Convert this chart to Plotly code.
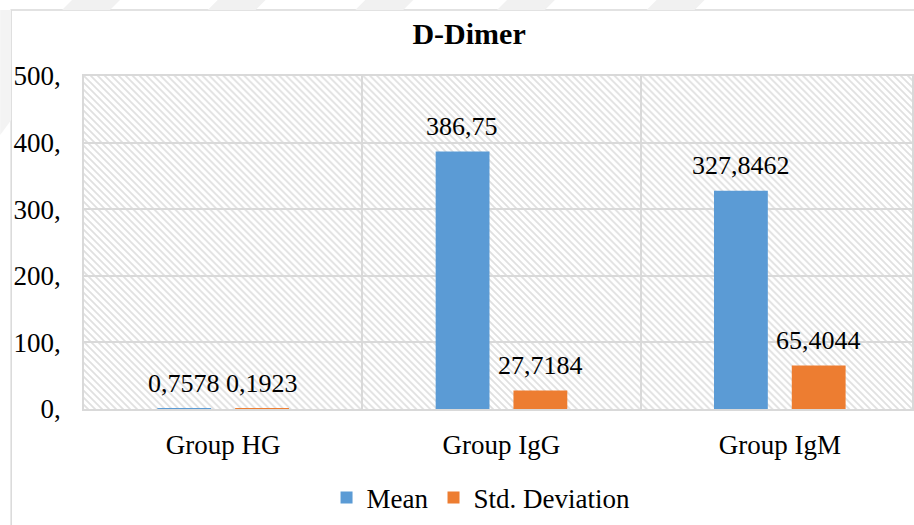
import base64
import plotly.graph_objects as go

groups = ["Group HG", "Group IgG", "Group IgM"]
mean_vals = [0.7578, 386.75, 327.8462]
std_vals = [0.1923, 27.7184, 65.4044]
y_ticks = [0, 100, 200, 300, 400, 500]
y_tick_text = [f"{v}," for v in y_ticks]

W, H = 914, 525
L, R, T, B = 84, 0, 76, 116
PW, PH = W - L - R, H - T - B
FONT = "Liberation Serif, Times New Roman, serif"
GRID = "#d9d9d9"


def px_x(x):
    return (x - L) / PW


def px_y(y):
    return (H - B - y) / PH


def label(v):
    return f"{v}".replace(".", ",")


# diagonal hatch for the plot area background (Excel pattern fill look)
hatch_svg = f"""<svg xmlns='http://www.w3.org/2000/svg' width='{PW}' height='{PH}'>
<defs><pattern id='p' width='7' height='7' patternUnits='userSpaceOnUse'>
<path d='M-1,-1 L8,8 M-1,6 L1,8 M6,-1 L8,1' stroke='#e0e0e0' stroke-width='1.8'/>
</pattern></defs><rect width='100%' height='100%' fill='white'/>
<rect width='100%' height='100%' fill='url(#p)'/></svg>"""
hatch_uri = "data:image/svg+xml;base64," + base64.b64encode(hatch_svg.encode()).decode()

fig = go.Figure()
fig.add_trace(go.Bar(x=groups, y=mean_vals, name="Mean", marker=dict(color="#5B9BD5", line=dict(width=0))))
fig.add_trace(go.Bar(x=groups, y=std_vals, name="Std. Deviation", marker=dict(color="#ED7D31", line=dict(width=0))))

annotations = []
for vals, shift in [(mean_vals, -39), (std_vals, 39)]:
    for g, v in zip(groups, vals):
        annotations.append(dict(x=g, y=v, xref="x", yref="y", text=label(v), showarrow=False,
                                xshift=shift, yshift=25, yanchor="middle",
                                font=dict(family=FONT, size=26, color="black")))

shapes = [dict(type="rect", xref="paper", yref="paper", x0=px_x(11), y0=px_y(540), x1=px_x(930), y1=px_y(10),
               line=dict(color=GRID, width=1.5), fillcolor="rgba(0,0,0,0)", layer="below")]
# faint watermark bands at the top edge
for x0 in [62, 208, 356, 498, 648]:
    p = (f"M{px_x(x0)},{px_y(10)} L{px_x(x0 + 48)},{px_y(10)} "
         f"L{px_x(x0 + 58)},{px_y(0)} L{px_x(x0 + 10)},{px_y(0)} Z")
    shapes.append(dict(type="path", xref="paper", yref="paper", path=p, fillcolor="#f1f1f1",
                       line=dict(width=0), layer="below"))
p = f"M{px_x(0)},{px_y(10)} L{px_x(11)},{px_y(10)} L{px_x(11)},{px_y(120)} L{px_x(0)},{px_y(135)} Z"
shapes.append(dict(type="path", xref="paper", yref="paper", path=p, fillcolor="#f3f3f3",
                   line=dict(width=0), layer="below"))

fig.update_layout(
    width=W, height=H,
    margin=dict(l=L, r=R, t=T, b=B),
    paper_bgcolor="white",
    plot_bgcolor="rgba(0,0,0,0)",
    font=dict(family=FONT, size=27, color="black"),
    title=dict(text="<b>D-Dimer</b>", x=px_x(470), xref="paper", xanchor="center",
               y=1 - 33 / H, yref="container", yanchor="middle",
               font=dict(family=FONT, size=30, color="black")),
    barmode="group", bargap=0.441, bargroupgap=0.308,
    showlegend=True,
    legend=dict(orientation="h", x=px_x(482), xanchor="center", y=px_y(498), yanchor="middle",
                font=dict(family=FONT, size=27, color="black"), bgcolor="rgba(0,0,0,0)"),
    annotations=annotations,
    shapes=shapes,
    images=[dict(source=hatch_uri, xref="paper", yref="paper", x=0, y=1, sizex=1, sizey=1,
                 sizing="stretch", xanchor="left", yanchor="top", layer="below")],
)
fig.update_xaxes(type="category", categoryorder="array", categoryarray=groups, range=[-0.5, 2.475],
                 tickson="boundaries", showgrid=True, gridcolor=GRID, gridwidth=1.5,
                 showline=True, linecolor=GRID, linewidth=1.5, mirror=True,
                 ticks="", ticklabelstandoff=11,
                 tickfont=dict(family=FONT, size=27, color="black"), fixedrange=True)
fig.update_yaxes(range=[0, 500], tickvals=y_ticks, ticktext=y_tick_text,
                 showgrid=True, gridcolor=GRID, gridwidth=1.5, zeroline=False,
                 showline=True, linecolor=GRID, linewidth=1.5, mirror=True,
                 ticks="outside", ticklen=16, tickcolor="rgba(0,0,0,0)",
                 tickfont=dict(family=FONT, size=27, color="black"), fixedrange=True)

fig.write_html("out.html", config=dict(displayModeBar=False),
               post_script="document.body.style.margin='0';document.body.style.overflow='hidden';")
